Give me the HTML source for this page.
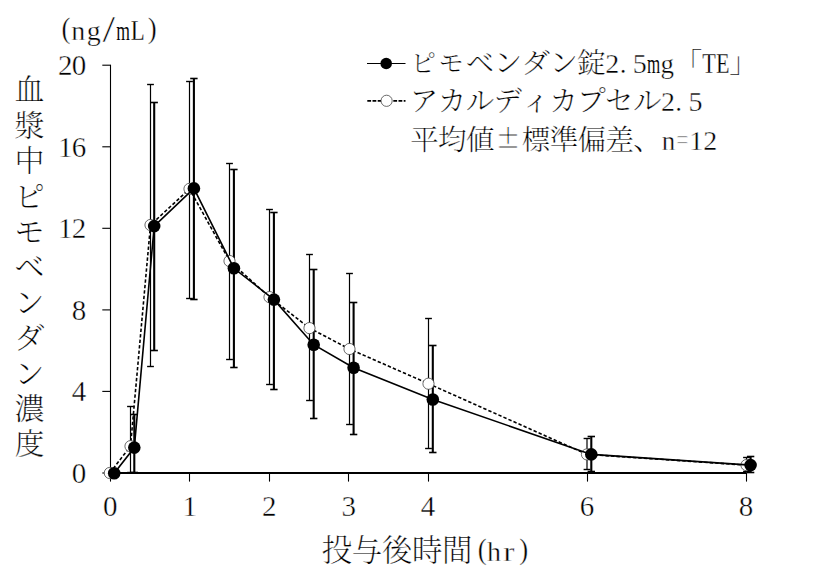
<!DOCTYPE html>
<html lang="ja"><head><meta charset="utf-8"><title>血漿中ピモベンダン濃度</title>
<style>
html,body{margin:0;padding:0;background:#fff;}
body{width:831px;height:580px;overflow:hidden;}
svg{display:block;}
text{font-family:"Liberation Serif","Noto Serif CJK JP","Noto Serif CJK SC",serif;fill:#000;text-anchor:middle;}
.j{font-weight:300;stroke-width:0.22px !important;}
text{stroke:#fff;stroke-width:0.4px;paint-order:fill stroke;}
</style></head><body>
<svg width="831" height="580" viewBox="0 0 831 580">
<rect width="831" height="580" fill="#fff"/>
<g stroke="#000" fill="none">
<line x1="110.5" y1="64.8" x2="110.5" y2="473.9" stroke-width="1.1"/>
<line x1="110.0" y1="473.0" x2="746.8" y2="473.0" stroke-width="1.9"/>
<line x1="102.3" y1="473.0" x2="110.5" y2="473.0" stroke-width="1.1"/>
<line x1="102.3" y1="391.4" x2="110.5" y2="391.4" stroke-width="1.1"/>
<line x1="102.3" y1="309.9" x2="110.5" y2="309.9" stroke-width="1.1"/>
<line x1="102.3" y1="228.3" x2="110.5" y2="228.3" stroke-width="1.1"/>
<line x1="102.3" y1="146.8" x2="110.5" y2="146.8" stroke-width="1.1"/>
<line x1="102.3" y1="65.2" x2="110.5" y2="65.2" stroke-width="1.1"/>
<line x1="110.5" y1="473.0" x2="110.5" y2="481.6" stroke-width="1.1"/>
<line x1="189.5" y1="473.0" x2="189.5" y2="481.6" stroke-width="1.1"/>
<line x1="269.5" y1="473.0" x2="269.5" y2="481.6" stroke-width="1.1"/>
<line x1="348.5" y1="473.0" x2="348.5" y2="481.6" stroke-width="1.1"/>
<line x1="428.5" y1="473.0" x2="428.5" y2="481.6" stroke-width="1.1"/>
<line x1="587.5" y1="473.0" x2="587.5" y2="481.6" stroke-width="1.1"/>
<line x1="746.5" y1="473.0" x2="746.5" y2="481.6" stroke-width="1.1"/>
</g>
<g stroke="#000" fill="none">
<line x1="134.3" y1="414.5" x2="134.3" y2="472.5" stroke-width="2.1"/>
<line x1="130.6" y1="414.5" x2="138.0" y2="414.5" stroke-width="1.6"/>
<line x1="130.6" y1="472.5" x2="138.0" y2="472.5" stroke-width="1.6"/>
<line x1="154.2" y1="102.5" x2="154.2" y2="350.5" stroke-width="2.1"/>
<line x1="150.5" y1="102.5" x2="157.9" y2="102.5" stroke-width="1.6"/>
<line x1="150.5" y1="350.5" x2="157.9" y2="350.5" stroke-width="1.6"/>
<line x1="193.9" y1="78.5" x2="193.9" y2="299.5" stroke-width="2.1"/>
<line x1="190.2" y1="78.5" x2="197.6" y2="78.5" stroke-width="1.6"/>
<line x1="190.2" y1="299.5" x2="197.6" y2="299.5" stroke-width="1.6"/>
<line x1="233.9" y1="169.5" x2="233.9" y2="367.5" stroke-width="2.1"/>
<line x1="230.2" y1="169.5" x2="237.6" y2="169.5" stroke-width="1.6"/>
<line x1="230.2" y1="367.5" x2="237.6" y2="367.5" stroke-width="1.6"/>
<line x1="273.9" y1="212.5" x2="273.9" y2="389.5" stroke-width="2.1"/>
<line x1="270.2" y1="212.5" x2="277.6" y2="212.5" stroke-width="1.6"/>
<line x1="270.2" y1="389.5" x2="277.6" y2="389.5" stroke-width="1.6"/>
<line x1="313.7" y1="269.5" x2="313.7" y2="418.5" stroke-width="2.1"/>
<line x1="310.0" y1="269.5" x2="317.4" y2="269.5" stroke-width="1.6"/>
<line x1="310.0" y1="418.5" x2="317.4" y2="418.5" stroke-width="1.6"/>
<line x1="353.6" y1="302.5" x2="353.6" y2="434.5" stroke-width="2.1"/>
<line x1="349.9" y1="302.5" x2="357.3" y2="302.5" stroke-width="1.6"/>
<line x1="349.9" y1="434.5" x2="357.3" y2="434.5" stroke-width="1.6"/>
<line x1="432.8" y1="345.5" x2="432.8" y2="452.5" stroke-width="2.1"/>
<line x1="429.1" y1="345.5" x2="436.5" y2="345.5" stroke-width="1.6"/>
<line x1="429.1" y1="452.5" x2="436.5" y2="452.5" stroke-width="1.6"/>
<line x1="591.3" y1="436.5" x2="591.3" y2="471.5" stroke-width="2.1"/>
<line x1="587.6" y1="436.5" x2="595.0" y2="436.5" stroke-width="1.6"/>
<line x1="587.6" y1="471.5" x2="595.0" y2="471.5" stroke-width="1.6"/>
<line x1="750.6" y1="456.5" x2="750.6" y2="472.5" stroke-width="2.1"/>
<line x1="746.9" y1="456.5" x2="754.3" y2="456.5" stroke-width="1.6"/>
<line x1="746.9" y1="472.5" x2="754.3" y2="472.5" stroke-width="1.6"/>
</g>
<g stroke="#000" fill="none">
<line x1="130.5" y1="406.5" x2="130.5" y2="472.5" stroke-width="1.2"/>
<line x1="127.1" y1="406.5" x2="133.9" y2="406.5" stroke-width="1.4"/>
<line x1="127.1" y1="472.5" x2="133.9" y2="472.5" stroke-width="1.4"/>
<line x1="150.5" y1="84.5" x2="150.5" y2="366.5" stroke-width="1.2"/>
<line x1="147.1" y1="84.5" x2="153.9" y2="84.5" stroke-width="1.4"/>
<line x1="147.1" y1="366.5" x2="153.9" y2="366.5" stroke-width="1.4"/>
<line x1="189.5" y1="81.5" x2="189.5" y2="298.5" stroke-width="1.2"/>
<line x1="186.1" y1="81.5" x2="192.9" y2="81.5" stroke-width="1.4"/>
<line x1="186.1" y1="298.5" x2="192.9" y2="298.5" stroke-width="1.4"/>
<line x1="229.5" y1="163.5" x2="229.5" y2="359.5" stroke-width="1.2"/>
<line x1="226.1" y1="163.5" x2="232.9" y2="163.5" stroke-width="1.4"/>
<line x1="226.1" y1="359.5" x2="232.9" y2="359.5" stroke-width="1.4"/>
<line x1="269.5" y1="209.5" x2="269.5" y2="384.5" stroke-width="1.2"/>
<line x1="266.1" y1="209.5" x2="272.9" y2="209.5" stroke-width="1.4"/>
<line x1="266.1" y1="384.5" x2="272.9" y2="384.5" stroke-width="1.4"/>
<line x1="309.5" y1="254.5" x2="309.5" y2="400.5" stroke-width="1.2"/>
<line x1="306.1" y1="254.5" x2="312.9" y2="254.5" stroke-width="1.4"/>
<line x1="306.1" y1="400.5" x2="312.9" y2="400.5" stroke-width="1.4"/>
<line x1="349.5" y1="273.5" x2="349.5" y2="424.5" stroke-width="1.2"/>
<line x1="346.1" y1="273.5" x2="352.9" y2="273.5" stroke-width="1.4"/>
<line x1="346.1" y1="424.5" x2="352.9" y2="424.5" stroke-width="1.4"/>
<line x1="428.5" y1="318.5" x2="428.5" y2="448.5" stroke-width="1.2"/>
<line x1="425.1" y1="318.5" x2="431.9" y2="318.5" stroke-width="1.4"/>
<line x1="425.1" y1="448.5" x2="431.9" y2="448.5" stroke-width="1.4"/>
<line x1="587.0" y1="438.5" x2="587.0" y2="469.5" stroke-width="1.2"/>
<line x1="583.6" y1="438.5" x2="590.4" y2="438.5" stroke-width="1.4"/>
<line x1="583.6" y1="469.5" x2="590.4" y2="469.5" stroke-width="1.4"/>
<line x1="746.5" y1="457.5" x2="746.5" y2="471.5" stroke-width="1.2"/>
<line x1="743.1" y1="457.5" x2="749.9" y2="457.5" stroke-width="1.4"/>
<line x1="743.1" y1="471.5" x2="749.9" y2="471.5" stroke-width="1.4"/>
</g>
<polyline points="109.8,473.0 130.5,446.2 150.5,225.0 189.5,188.9 229.5,261.0 269.5,297.1 309.5,328.1 349.5,349.0 428.5,383.7 587.0,454.4 746.5,465.1" fill="none" stroke="#000" stroke-width="1.6" stroke-dasharray="3.4 2.1"/>
<circle cx="109.8" cy="473.0" r="5.6" fill="#fff" stroke="#444" stroke-width="0.8"/>
<circle cx="130.5" cy="446.2" r="5.6" fill="#fff" stroke="#444" stroke-width="0.8"/>
<circle cx="150.5" cy="225.0" r="5.6" fill="#fff" stroke="#444" stroke-width="0.8"/>
<circle cx="189.5" cy="188.9" r="5.6" fill="#fff" stroke="#444" stroke-width="0.8"/>
<circle cx="229.5" cy="261.0" r="5.6" fill="#fff" stroke="#444" stroke-width="0.8"/>
<circle cx="269.5" cy="297.1" r="5.6" fill="#fff" stroke="#444" stroke-width="0.8"/>
<circle cx="309.5" cy="328.1" r="5.6" fill="#fff" stroke="#444" stroke-width="0.8"/>
<circle cx="349.5" cy="349.0" r="5.6" fill="#fff" stroke="#444" stroke-width="0.8"/>
<circle cx="428.5" cy="383.7" r="5.6" fill="#fff" stroke="#444" stroke-width="0.8"/>
<circle cx="587.0" cy="454.4" r="5.6" fill="#fff" stroke="#444" stroke-width="0.8"/>
<circle cx="746.5" cy="465.1" r="5.6" fill="#fff" stroke="#444" stroke-width="0.8"/>
<polyline points="114.2,473.2 134.3,447.6 154.2,226.1 193.9,188.4 233.9,268.3 273.9,299.6 313.7,344.7 353.6,367.8 432.8,399.5 591.3,454.4 750.6,465.1" fill="none" stroke="#000" stroke-width="1.6"/>
<circle cx="114.2" cy="473.2" r="6.3" fill="#000"/>
<circle cx="134.3" cy="447.6" r="6.3" fill="#000"/>
<circle cx="154.2" cy="226.1" r="6.3" fill="#000"/>
<circle cx="193.9" cy="188.4" r="6.3" fill="#000"/>
<circle cx="233.9" cy="268.3" r="6.3" fill="#000"/>
<circle cx="273.9" cy="299.6" r="6.3" fill="#000"/>
<circle cx="313.7" cy="344.7" r="6.3" fill="#000"/>
<circle cx="353.6" cy="367.8" r="6.3" fill="#000"/>
<circle cx="432.8" cy="399.5" r="6.3" fill="#000"/>
<circle cx="591.3" cy="454.4" r="6.3" fill="#000"/>
<circle cx="750.6" cy="465.1" r="6.3" fill="#000"/>
<text x="78.9" y="483.0" font-size="29">0</text>
<text x="78.9" y="401.4" font-size="29">4</text>
<text x="78.9" y="319.9" font-size="29">8</text>
<text x="65.3 78.9" y="238.3" font-size="29">12</text>
<text x="65.3 78.9" y="156.8" font-size="29">16</text>
<text x="65.3 78.9" y="75.2" font-size="29">20</text>
<text x="110.3" y="515.5" font-size="29.0">0</text>
<text x="189.8" y="515.5" font-size="29.0">1</text>
<text x="269.2" y="515.5" font-size="29.0">2</text>
<text x="348.7" y="515.5" font-size="29.0">3</text>
<text x="428.1" y="515.5" font-size="29.0">4</text>
<text x="587.0" y="515.5" font-size="29.0">6</text>
<text x="745.9" y="515.5" font-size="29.0">8</text>
<g><text transform="translate(65.9,37.8) scale(0.88,1)" font-size="30.5">(</text><text x="78.2" y="40.0" font-size="28.0">n</text><text x="93.8" y="40.0" font-size="28.0">g</text><text transform="translate(108.9,42.0) scale(1.5,1.25)" font-size="30.2">/</text><text transform="translate(123.2,40.0) scale(0.63,1)" font-size="28.0" style="stroke-width:0.1px">m</text><text transform="translate(137.7,40.0) scale(0.78,1)" font-size="29.4" style="stroke-width:0.25px">L</text><text transform="translate(152.2,37.8) scale(0.88,1)" font-size="30.5">)</text></g>
<g><text class="j" x="336.9" y="561.3" font-size="30.5">投</text><text class="j" x="367.0" y="561.3" font-size="30.5">与</text><text class="j" x="397.1" y="561.3" font-size="30.5">後</text><text class="j" x="427.2" y="561.3" font-size="30.5">時</text><text class="j" x="457.3" y="561.3" font-size="30.5">間</text><text transform="translate(482.3,558.8) scale(0.88,1)" font-size="30.5">(</text><text x="494.0" y="561.0" font-size="28.0">h</text><text transform="translate(508.9,561.0) scale(1.2,1)" font-size="28.0">r</text><text transform="translate(523.7,558.8) scale(0.88,1)" font-size="30.5">)</text></g>
<g><text class="j" x="29.5" y="100.4" font-size="30">血</text><text class="j" x="29.5" y="135.8" font-size="30">漿</text><text class="j" x="29.5" y="171.2" font-size="30">中</text><text class="j" x="29.5" y="206.6" font-size="30">ピ</text><text class="j" x="29.5" y="242.0" font-size="30">モ</text><text class="j" x="29.5" y="277.4" font-size="30">ベ</text><text class="j" x="29.5" y="312.8" font-size="30">ン</text><text class="j" x="29.5" y="348.2" font-size="30">ダ</text><text class="j" x="29.5" y="383.6" font-size="30">ン</text><text class="j" x="29.5" y="419.0" font-size="30">濃</text><text class="j" x="29.5" y="454.4" font-size="30">度</text></g>
<g stroke="#000" fill="none">
<line x1="367" y1="63.5" x2="405.5" y2="63.5" stroke-width="1.2"/>
<line x1="367.3" y1="100.8" x2="405.5" y2="100.8" stroke-width="1.7" stroke-dasharray="3.8 1.4"/>
</g>
<circle cx="386.2" cy="63.5" r="5.8" fill="#000"/>
<circle cx="386.6" cy="100.8" r="5.6" fill="#fff" stroke="#444" stroke-width="0.8"/>
<g><text class="j" x="423.2" y="72.2" font-size="25.1">ピ</text><text class="j" x="451.1" y="72.2" font-size="25.1">モ</text><text class="j" x="480.1" y="73.0" font-size="28.5">ベ</text><text class="j" x="508.0" y="73.0" font-size="28.5">ン</text><text class="j" x="535.8" y="73.0" font-size="28.5">ダ</text><text class="j" x="563.7" y="73.0" font-size="28.5">ン</text><text class="j" x="591.5" y="73.0" font-size="28.5">錠</text><text x="612.3" y="73.0" font-size="28.0">2</text><text x="623.1" y="73.0" font-size="27.0">.</text><text x="639.8" y="73.0" font-size="28.0">5</text><text transform="translate(653.6,73.0) scale(0.63,1)" font-size="27.0" style="stroke-width:0.1px">m</text><text x="667.3" y="73.0" font-size="27.0">g</text><text class="j" x="688.1" y="73.0" font-size="28.5">「</text><text transform="translate(708.9,73.0) scale(0.78,1)" font-size="28.4" style="stroke-width:0.25px">T</text><text transform="translate(722.7,73.0) scale(0.78,1)" font-size="28.4" style="stroke-width:0.25px">E</text><text class="j" x="743.5" y="73.0" font-size="28.5">」</text></g>
<g><text class="j" x="424.1" y="110.5" font-size="28.5">ア</text><text class="j" x="452.0" y="110.5" font-size="28.5">カ</text><text class="j" x="479.9" y="110.5" font-size="28.5">ル</text><text class="j" x="507.8" y="110.5" font-size="28.5">デ</text><text class="j" x="535.7" y="110.5" font-size="28.5">ィ</text><text class="j" x="563.5" y="110.5" font-size="28.5">カ</text><text class="j" x="591.4" y="110.5" font-size="28.5">プ</text><text class="j" x="619.3" y="110.5" font-size="28.5">セ</text><text class="j" x="647.2" y="110.5" font-size="28.5">ル</text><text x="668.0" y="110.5" font-size="28.0">2</text><text x="678.7" y="110.5" font-size="27.0">.</text><text x="695.5" y="110.5" font-size="28.0">5</text></g>
<g><text class="j" x="424.4" y="149.8" font-size="28.5">平</text><text class="j" x="452.3" y="149.8" font-size="28.5">均</text><text class="j" x="480.2" y="149.8" font-size="28.5">値</text><text transform="translate(508.1,148.3) scale(1.42,1.36)" font-size="28.5" style="stroke-width:0.7px">±</text><text class="j" x="536.0" y="149.8" font-size="28.5">標</text><text class="j" x="563.9" y="149.8" font-size="28.5">準</text><text class="j" x="591.8" y="149.8" font-size="28.5">偏</text><text class="j" x="619.7" y="149.8" font-size="28.5">差</text><text class="j" x="647.6" y="149.8" font-size="28.5">、</text><text x="668.5" y="149.8" font-size="27.0">n</text><text transform="translate(682.4,148.8) scale(0.8,1)" font-size="27.0" style="stroke-width:0.9px">=</text><text x="696.3" y="149.8" font-size="28.0">1</text><text x="710.2" y="149.8" font-size="28.0">2</text></g>
</svg></body></html>
